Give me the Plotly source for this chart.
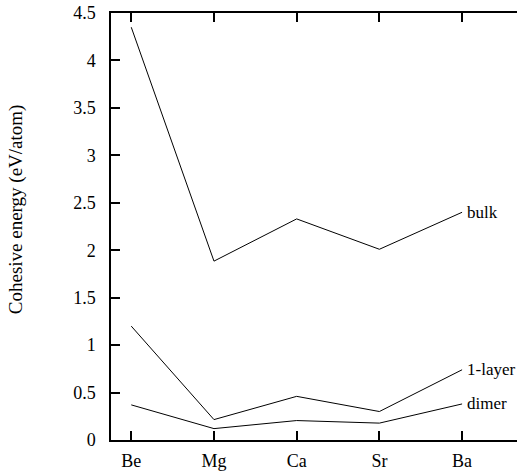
import plotly.graph_objects as go

elements = ["Be", "Mg", "Ca", "Sr", "Ba"]
bulk = [4.35, 1.885, 2.33, 2.01, 2.40]
one_layer = [1.20, 0.215, 0.46, 0.30, 0.74]
dimer = [0.37, 0.12, 0.205, 0.178, 0.38]
series_names = ["bulk", "1-layer", "dimer"]
series_values = [bulk, one_layer, dimer]
y_ticks = [0, 0.5, 1, 1.5, 2, 2.5, 3, 3.5, 4, 4.5]

FONT = "Times New Roman, Liberation Serif, Tinos, DejaVu Serif, serif"
fig = go.Figure()
for name, vals in zip(series_names, series_values):
    fig.add_trace(go.Scatter(x=elements, y=vals, mode="lines", name=name,
                             line=dict(color="black", width=1), showlegend=False))
    fig.add_annotation(x=elements[-1], y=vals[-1], text=name, showarrow=False,
                       xanchor="left", yanchor="middle", xshift=3,
                       font=dict(family=FONT, size=17, color="black"))

fig.add_annotation(text="Cohesive energy (eV/atom)", textangle=-90, showarrow=False,
                   xref="paper", yref="paper", x=-0.232, y=0.54,
                   xanchor="center", yanchor="middle",
                   font=dict(family=FONT, size=19, color="black"))

fig.update_layout(
    width=517, height=471,
    margin=dict(l=111, r=0, t=13, b=28),
    plot_bgcolor="white", paper_bgcolor="white",
    font=dict(family=FONT, size=17, color="black"),
    xaxis=dict(type="category", categoryorder="array", categoryarray=elements,
               range=[-0.245, 4.664], showgrid=False, zeroline=False,
               showline=True, linecolor="black", linewidth=1.5, mirror="ticks",
               ticks="inside", ticklen=9, tickcolor="black", tickwidth=1.5,
               ticklabelstandoff=4, tickfont=dict(family=FONT, size=18)),
    yaxis=dict(range=[0, 4.5], tickvals=y_ticks, showgrid=False, zeroline=False,
               showline=True, linecolor="black", linewidth=1.5, mirror=False,
               ticks="inside", ticklen=9, tickcolor="black", tickwidth=1.5,
               ticklabelstandoff=10, tickfont=dict(family=FONT, size=18)),
    yaxis2=dict(range=[0, 4.5], tickvals=y_ticks, overlaying="y", side="right",
                anchor="free", position=1, showgrid=False, zeroline=False,
                showline=False, ticks="inside", ticklen=4, tickcolor="black",
                tickwidth=1.5, showticklabels=False),
)
fig.write_html("out.html", config={"displayModeBar": False},
               post_script="document.body.style.margin='0';document.body.style.overflow='hidden';")
